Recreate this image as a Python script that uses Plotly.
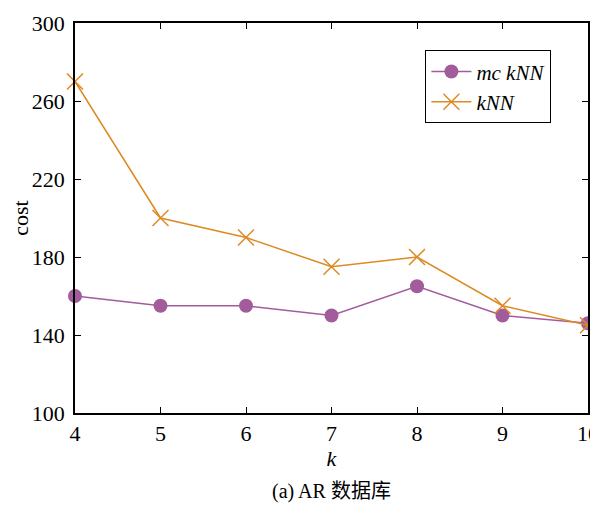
import plotly.graph_objects as go

k_values = [4, 5, 6, 7, 8, 9, 10]
mc_knn_cost = [160, 155, 155, 150, 165, 150, 146]
knn_cost = [270, 200, 190, 175, 180, 155, 145]
y_ticks = [100, 140, 180, 220, 260, 300]

purple = "#A25C9C"
orange = "#DD8A22"
font_fam = "Liberation Serif"
cjk_fam = "Liberation Serif, Noto Sans CJK SC"

fig = go.Figure()
fig.add_trace(go.Scatter(
    x=k_values, y=mc_knn_cost, name="<i>mc kNN</i>", mode="lines+markers",
    line=dict(color=purple, width=1.5),
    marker=dict(symbol="circle", size=14, color=purple),
    cliponaxis=False,
))
fig.add_trace(go.Scatter(
    x=k_values, y=knn_cost, name="<i>kNN</i>", mode="lines+markers",
    line=dict(color=orange, width=1.5),
    marker=dict(symbol="x-thin", size=16, line=dict(color=orange, width=1.5)),
    cliponaxis=False,
))

axis_common = dict(
    showgrid=False, zeroline=False, showline=True, linecolor="black", linewidth=1.5,
    ticks="inside", ticklen=6, tickcolor="black", tickwidth=1, mirror="ticks",
    tickfont=dict(family=font_fam, size=22, color="black"), automargin=False,
    ticklabeloverflow="allow",
)
fig.update_xaxes(
    range=[4, 10], tickvals=k_values, **axis_common,
    title=dict(text="<i>k</i>", font=dict(family=font_fam, size=22, color="black"), standoff=0),
)
fig.update_yaxes(
    range=[100, 300], tickvals=y_ticks, **axis_common, ticklabelstandoff=4,
    title=dict(text="cost", font=dict(family=font_fam, size=22, color="black"), standoff=10),
)
fig.update_layout(
    width=590, height=498,
    margin=dict(l=67, r=10, t=15, b=93),
    paper_bgcolor="white", plot_bgcolor="white",
    font=dict(family=font_fam, color="black"),
    showlegend=True,
    legend=dict(
        x=0.683, y=0.93, xanchor="left", yanchor="top",
        bordercolor="black", borderwidth=1, bgcolor="white",
        font=dict(family=font_fam, size=21, color="black"),
        tracegroupgap=0, itemwidth=40,
    ),
    annotations=[dict(
        text="(a) AR 数据库", x=0.5, y=-0.2, xref="paper", yref="paper",
        xanchor="center", yanchor="middle", showarrow=False,
        font=dict(family=cjk_fam, size=20, color="black"),
    )],
)
fig.write_html("out.html")
